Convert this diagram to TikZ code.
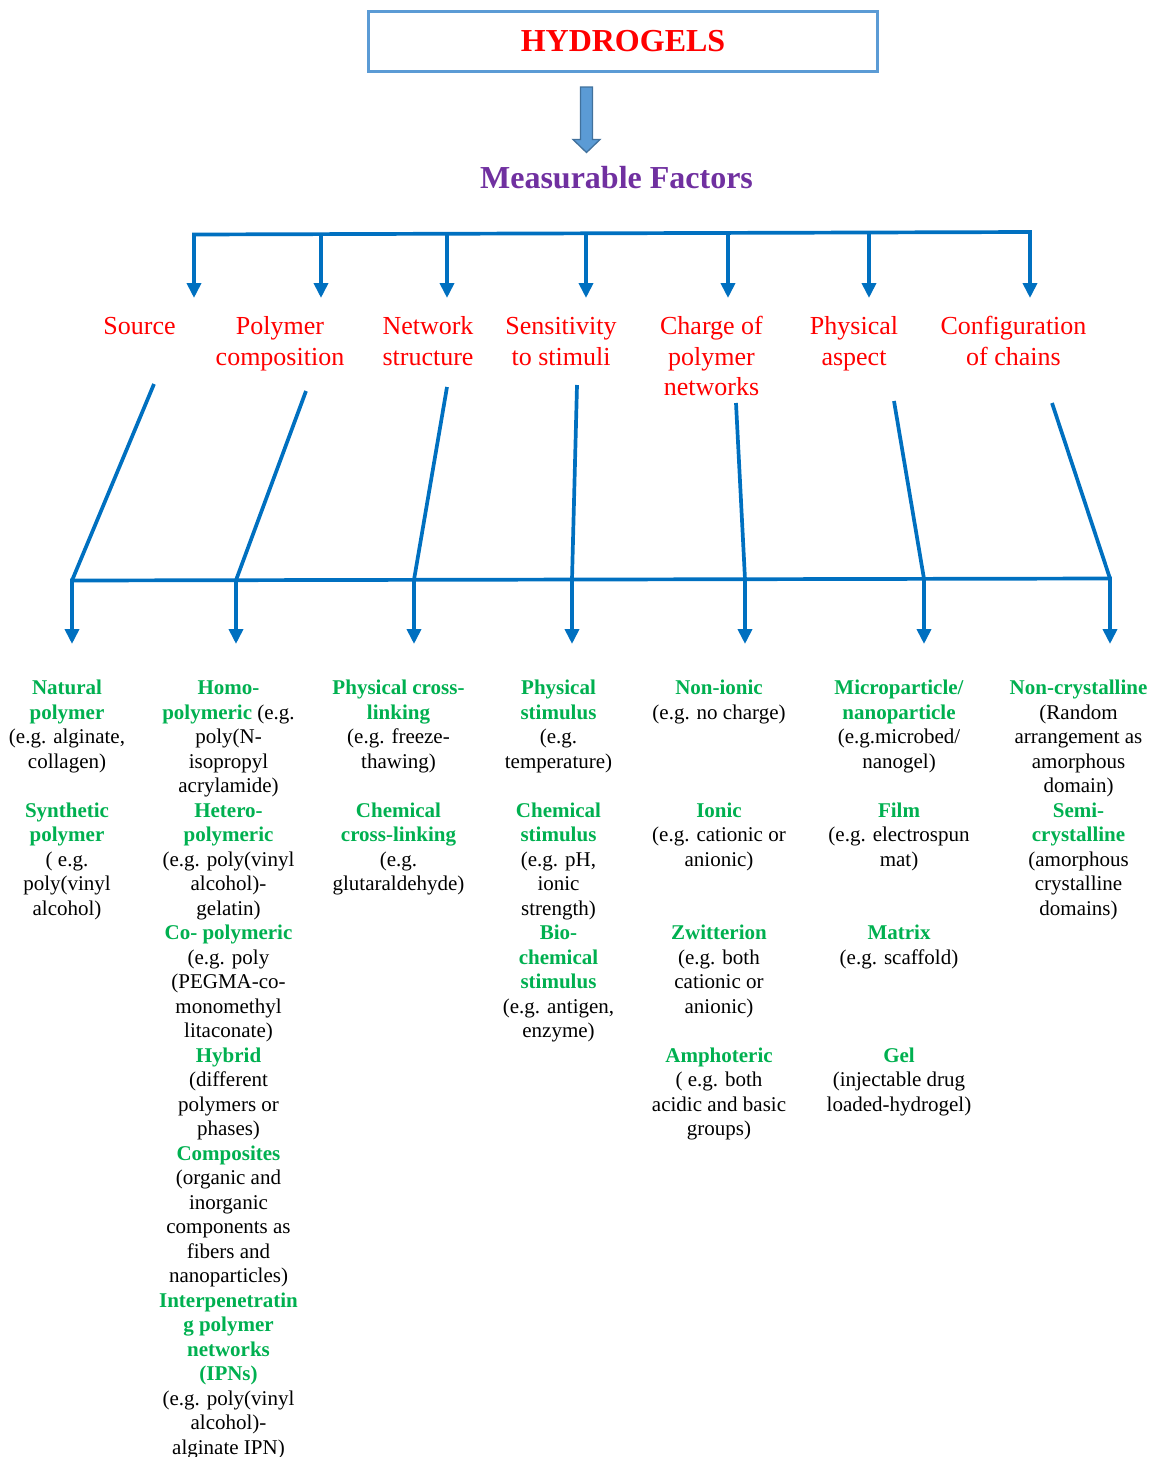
\documentclass[tikz,border=0pt]{standalone}
\usepackage{fontspec}
\setmainfont{Liberation Serif}
\usetikzlibrary{arrows.meta}
\definecolor{linkblue}{HTML}{0070C0}
\definecolor{boxblue}{HTML}{5B9BD5}
\definecolor{boxedge}{HTML}{41719C}
\definecolor{titlered}{HTML}{FF0000}
\definecolor{factorpurple}{HTML}{7030A0}
\definecolor{termgreen}{HTML}{00B050}
\newcommand\term[1]{{\bfseries\color{termgreen}#1}}
\begin{document}
\begin{tikzpicture}[x=1pt,y=-1pt,
  link/.style={draw=linkblue,line width=3.7pt},
  linkarrow/.style={link,-{Triangle[width=14pt,length=15pt]}},
  bar/.style={link,line cap=rect},
  category/.style={text=titlered,font=\fontsize{26}{30.3}\selectfont,
    align=center,inner sep=0pt,anchor=north},
  column/.style={text=black,font=\fontsize{21}{24.5}\selectfont,
    align=center,inner sep=0pt,anchor=north},
]
\useasboundingbox (0,0) rectangle (1160,1457);

% title box and block arrow
\node[draw=boxblue,line width=3pt,minimum width=509pt,minimum height=60pt,
  inner sep=0pt,text=titlered,font=\fontsize{32}{38}\selectfont\bfseries]
  (title) at (623,41.5) {HYDROGELS};
\draw[fill=boxblue,draw=boxedge,line width=1.3pt]
  (580.5,87) -- (592.5,87) -- (592.5,139.5) -- (600,139.5) -- (586.5,152.5)
  -- (573,139.5) -- (580.5,139.5) -- cycle;
\node[anchor=base,text=factorpurple,font=\fontsize{32}{38}\selectfont\bfseries]
  (factors) at (616.5,188) {Measurable Factors};

% upper bracket
\coordinate (tl) at (194,234.5);
\coordinate (tr) at (1030,232);
\coordinate (t2) at (321,234.1);
\coordinate (t3) at (447,233.7);
\coordinate (t4) at (586,233.3);
\coordinate (t5) at (728,232.9);
\coordinate (t6) at (869,232.5);
\foreach \n/\x in {1/194,2/321,3/447,4/586,5/728,6/869,7/1030}
  \coordinate (a\n) at (\x,298);
\draw[bar] (tl) -- (tr);
\draw[linkarrow] (tl) -- (a1);
\draw[linkarrow] (t2) -- (a2);
\draw[linkarrow] (t3) -- (a3);
\draw[linkarrow] (t4) -- (a4);
\draw[linkarrow] (t5) -- (a5);
\draw[linkarrow] (t6) -- (a6);
\draw[linkarrow] (tr) -- (a7);

% factor categories
\node[category] (source) at (139.5,313.3) {\strut Source};
\node[category] (composition) at (280,313.3) {\strut Polymer\\composition};
\node[category] (network) at (428,313.3) {\strut Network\\structure};
\node[category] (stimuli) at (561,313.3) {\strut Sensitivity\\to stimuli};
\node[category] (charge) at (711.5,313.3) {\strut Charge of\\polymer\\networks};
\node[category] (aspect) at (854,313.3) {\strut Physical\\aspect};
\node[category] (chains) at (1013.5,313.3) {\strut Configuration\\of chains};

% lower bracket
\coordinate (bl) at (72,580.5);
\coordinate (br) at (1110,578.5);
\coordinate (b2) at (236,580.2);
\coordinate (b3) at (414,579.8);
\coordinate (b4) at (572,579.5);
\coordinate (b5) at (745,579.2);
\coordinate (b6) at (924,578.9);
\coordinate (d1) at (154,384);
\coordinate (d2) at (306,391);
\coordinate (d3) at (447,387);
\coordinate (d4) at (577,385);
\coordinate (d5) at (736,403);
\coordinate (d6) at (894,401);
\coordinate (d7) at (1052,403);
\foreach \n/\x in {1/72,2/236,3/414,4/572,5/745,6/924,7/1110}
  \coordinate (c\n) at (\x,644);
\draw[link] (d1) -- (bl);
\draw[link] (d2) -- (b2);
\draw[link] (d3) -- (b3);
\draw[link] (d4) -- (b4);
\draw[link] (d5) -- (b5);
\draw[link] (d6) -- (b6);
\draw[link] (d7) -- (br);
\draw[bar] (bl) -- (br);
\draw[linkarrow] (bl) -- (c1);
\draw[linkarrow] (b2) -- (c2);
\draw[linkarrow] (b3) -- (c3);
\draw[linkarrow] (b4) -- (c4);
\draw[linkarrow] (b5) -- (c5);
\draw[linkarrow] (b6) -- (c6);
\draw[linkarrow] (br) -- (c7);

% hydrogel types per category
\node[column] (col1) at (67,677.3) {\strut\term{Natural}\\\term{polymer}\\(e.g. alginate,\\collagen)\\[24.5pt]\term{Synthetic}\\\term{polymer}\\( e.g.\\poly(vinyl\\alcohol)};
\node[column] (col2) at (228.5,677.3) {\strut\term{Homo-}\\\term{polymeric} (e.g.\\poly(N-\\isopropyl\\acrylamide)\\\term{Hetero-}\\\term{polymeric}\\(e.g. poly(vinyl\\alcohol)-\\gelatin)\\\term{Co- polymeric}\\(e.g. poly\\(PEGMA-co-\\monomethyl\\litaconate)\\\term{Hybrid}\\(different\\polymers or\\phases)\\\term{Composites}\\(organic and\\inorganic\\components as\\fibers and\\nanoparticles)\\\term{Interpenetratin}\\\term{g polymer}\\\term{networks}\\\term{(IPNs)}\\(e.g. poly(vinyl\\alcohol)-\\alginate IPN)};
\node[column] (col3) at (398.5,677.3) {\strut\term{Physical cross-}\\\term{linking}\\(e.g. freeze-\\thawing)\\[24.5pt]\term{Chemical}\\\term{cross-linking}\\(e.g.\\glutaraldehyde)};
\node[column] (col4) at (558.5,677.3) {\strut\term{Physical}\\\term{stimulus}\\(e.g.\\temperature)\\[24.5pt]\term{Chemical}\\\term{stimulus}\\(e.g. pH,\\ionic\\strength)\\\term{Bio-}\\\term{chemical}\\\term{stimulus}\\(e.g. antigen,\\enzyme)};
\node[column] (col5) at (719,677.3) {\strut\term{Non-ionic}\\(e.g. no charge)\\[73.5pt]\term{Ionic}\\(e.g. cationic or\\anionic)\\[49pt]\term{Zwitterion}\\(e.g. both\\cationic or\\anionic)\\[24.5pt]\term{Amphoteric}\\( e.g. both\\acidic and basic\\groups)};
\node[column] (col6) at (899,677.3) {\strut\term{Microparticle/}\\\term{nanoparticle}\\(e.g.microbed/\\nanogel)\\[24.5pt]\term{Film}\\(e.g. electrospun\\mat)\\[49pt]\term{Matrix}\\(e.g. scaffold)\\[73.5pt]\term{Gel}\\(injectable drug\\loaded-hydrogel)};
\node[column] (col7) at (1078.5,677.3) {\strut\term{Non-crystalline}\\(Random\\arrangement as\\amorphous\\domain)\\\term{Semi-}\\\term{crystalline}\\(amorphous\\crystalline\\domains)};
\end{tikzpicture}
\end{document}
